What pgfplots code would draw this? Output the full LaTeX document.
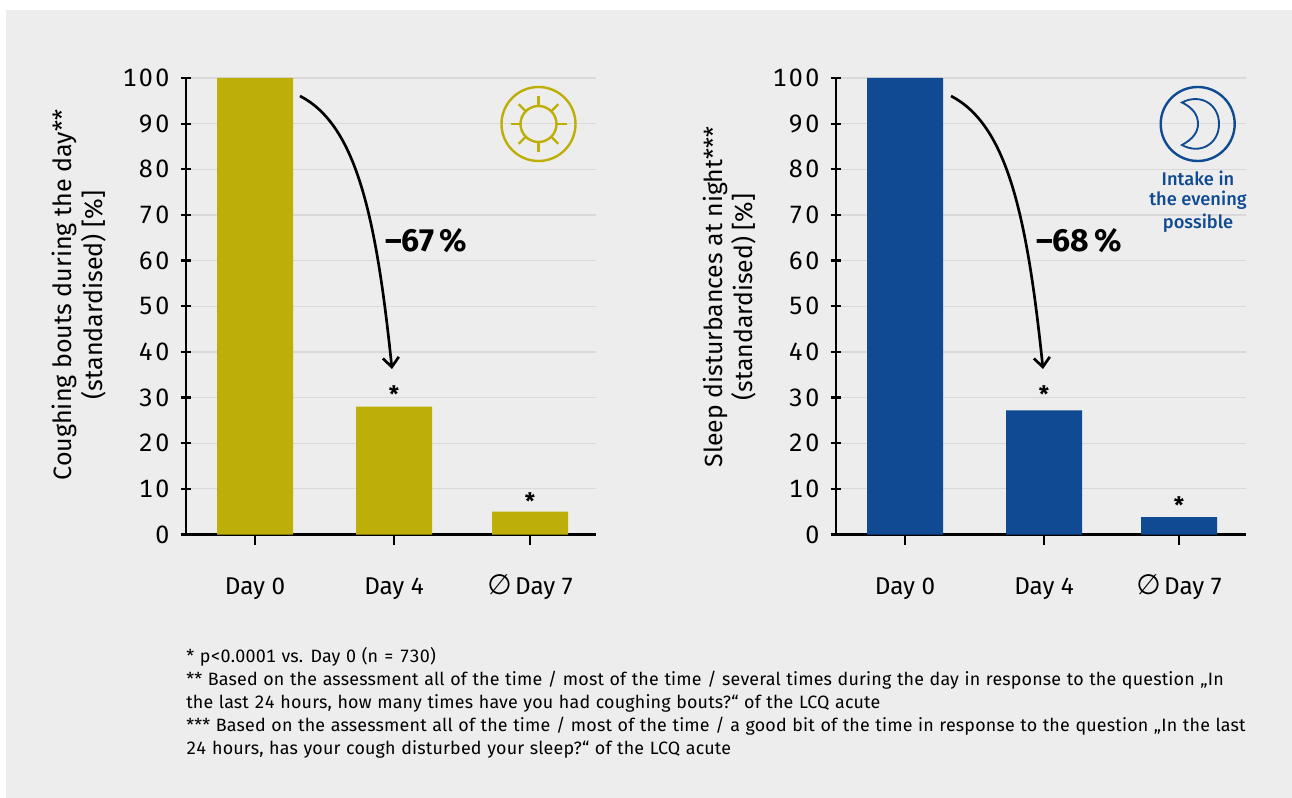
\documentclass[border=0pt]{standalone}
\usepackage{pgfplots}
\pgfplotsset{compat=1.18}
\usepackage{fontspec}
\usetikzlibrary{arrows.meta}
\setmainfont{Fira Sans}
\newfontfamily\symfont{DejaVu Sans}
\newfontfamily\digitfont[Numbers={Lining,Monospaced},LetterSpace=9]{Fira Sans}
\newfontfamily\notefont[Numbers={Lining,Monospaced},LetterSpace=1.0,WordSpace=1.15]{Fira Sans}
\newfontfamily\medfont{Fira Sans Medium}
\definecolor{panel}{HTML}{EDEDED}
\definecolor{olive}{HTML}{BDAE08}
\definecolor{navy}{HTML}{0F4A92}
\definecolor{gridc}{HTML}{D9D9D9}

\pgfplotsset{
  coughpanel/.style={
    scale only axis, width=307.5pt, height=342.4pt,
    anchor=origin,
    ymin=0, ymax=100, ytick={0,10,...,100},
    axis x line*=bottom, axis y line*=left,
    axis line style={black, line width=1.7pt, -},
    ymajorgrids, major grid style={gridc, line width=0.9pt},
    tick style={black, line width=1.7pt},
    major tick length=8pt,
    ytick align=center, xtick align=outside,
    xtick=data,
    xticklabels={Day 0, Day 4, {\smash{\symfont\fontsize{21}{22}\selectfont\char"2205}\hspace{2.5pt}Day 7}},
    /pgf/number format/assume math mode=true,
    xticklabel style={font=\fontsize{18.2}{22}\selectfont, yshift=-20pt, text height=13.5pt},
    yticklabel style={font=\digitfont\fontsize{18.8}{22}\selectfont, xshift=-5pt},
    ybar, bar width=57pt, bar shift=0pt,
    clip=false,
  },
}

\begin{document}
\begin{tikzpicture}
\useasboundingbox (0,0) rectangle (969pt,-598.5pt);
\fill[white] (0,0) rectangle (969pt,-598.5pt);
\fill[panel] (4.5pt,-7.5pt) rectangle (969pt,-598.5pt);

% daytime coughing bouts
\begin{axis}[coughpanel, at={(139.5pt,-400.9pt)}, xmin=186, xmax=596]
\addplot[fill=olive, draw=none] coordinates {(255,100) (394,28) (530,5)};
\end{axis}

% night-time sleep disturbances
\begin{axis}[coughpanel, at={(627pt,-400.9pt)}, xmin=836, xmax=1246]
\addplot[fill=navy, draw=none] coordinates {(905,100) (1044,27.2) (1179,3.8)};
\end{axis}

\begin{scope}[x=0.75pt,y=-0.75pt]
% axis titles
\node[rotate=90, align=center, font=\fontsize{18.8}{23}\selectfont] at (79,295)
  {Coughing bouts during the day**\\(standardised) [\%]};
\node[rotate=90, align=center, font=\fontsize{18.6}{23}\selectfont] at (729.5,297)
  {Sleep disturbances at night***\\(standardised) [\%]};

% extensions of the baselines past the value axes
\draw[black, line width=1.7pt] (181,534.5) -- (186,534.5);
\draw[black, line width=1.7pt] (831,534.5) -- (836,534.5);

% significance markers
\foreach \x/\y in {394/394,530/501,1044/394,1179/505}
  \node[font=\fontsize{17}{20}\bfseries\selectfont] at (\x,\y) {*};

% reduction arrows
\draw[black, line width=2pt, -{Straight Barb[length=7pt,width=12pt]}]
  (300,96) .. controls (356,125) and (376,215) .. (392,369);
\draw[black, line width=2pt, -{Straight Barb[length=7pt,width=12pt]}]
  (951,96) .. controls (1007,125) and (1027,215) .. (1043,369);
\node[font=\fontsize{24}{28}\bfseries\selectfont, anchor=west, inner sep=0pt] at (385,241) {–67\,\%};
\node[font=\fontsize{24}{28}\bfseries\selectfont, anchor=west, inner sep=0pt] at (1036,241) {–68\,\%};

% sun icon
\draw[olive, line width=1.8pt] (538.5,124) circle[radius=37];
\draw[olive, line width=1.8pt] (538.5,124) circle[radius=18];
\foreach \a in {0,45,...,315}
  \draw[olive, line width=1.8pt] (538.5,124) ++(\a:18) -- ++(\a:10);

% moon icon
\draw[navy, line width=1.8pt] (1197.7,124) circle[radius=37];
\draw[navy, line width=1.4pt, line join=miter]
  (1182,102.5) .. controls (1200,93) and (1219,104) .. (1219,124)
  .. controls (1219,144) and (1200,155) .. (1182,145)
  .. controls (1193,139) and (1198,132) .. (1198,124)
  .. controls (1198,115) and (1193,108) .. (1182,102.5) -- cycle;
\foreach \t/\y in {Intake in/178,the evening/200,possible/223}
  \node[navy, font=\medfont\fontsize{13.7}{16}\selectfont] at (1198,\y) {\t};

% footnotes
\foreach \y/\t in {
  657/{* p<0.0001 vs. Day 0 (n = 730)},
  680/{** Based on the assessment all of the time / most of the time / several times during the day in response to the question „In},
  703/{the last 24 hours, how many times have you had coughing bouts?“ of the LCQ acute},
  726/{*** Based on the assessment all of the time / most of the time / a good bit of the time in response to the question „In the last},
  749/{24 hours, has your cough disturbed your sleep?“ of the LCQ acute}}
  \node[anchor=west, inner sep=0pt, font=\notefont\fontsize{13.4}{16}\selectfont] at (186,\y) {\t};
\end{scope}
\end{tikzpicture}
\end{document}
